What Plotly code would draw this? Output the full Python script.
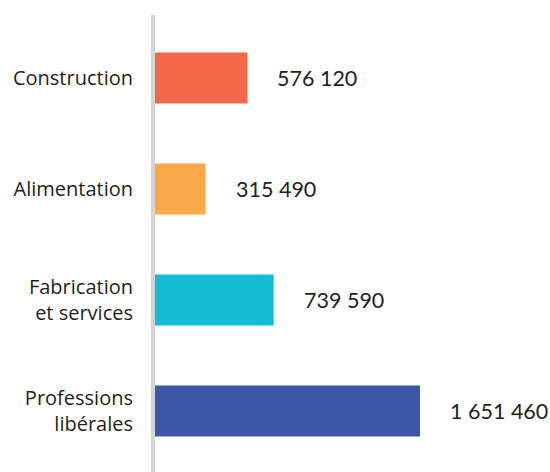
import plotly.graph_objects as go

categories = ["Professions<br>libérales", "Fabrication<br>et services", "Alimentation", "Construction"]
values = [1651460, 739590, 315490, 576120]
labels = ["1 651 460", "739 590", "315 490", "576 120"]
colors = ["#3D55A5", "#13BCD4", "#F9A84A", "#F26849"]

font_family = "'Open Sans', 'Noto Sans', sans-serif"
value_font = "Lato, 'Noto Sans', sans-serif"
text_color = "#231F20"

fig = go.Figure()
fig.add_trace(go.Bar(
    y=categories, x=values, orientation="h",
    marker=dict(color=colors, line=dict(width=0)),
    width=0.46, hoverinfo="skip",
))

for c, v, t in zip(categories, values, labels):
    fig.add_annotation(x=v, y=c, text=t, showarrow=False, xanchor="left",
                       xshift=28, font=dict(size=21.5, color=text_color, family=value_font))

fig.update_layout(
    width=550, height=472,
    margin=dict(l=155, r=0, t=15, b=0),
    paper_bgcolor="white", plot_bgcolor="white",
    showlegend=False,
    xaxis=dict(range=[0, 2461600], visible=False, showgrid=False, zeroline=False),
    yaxis=dict(range=[-0.549, 3.568], showgrid=False, zeroline=False, automargin=False,
               showline=True, linecolor="#D4D4D8", linewidth=4,
               ticks="outside", ticklen=14, tickcolor="rgba(0,0,0,0)",
               tickfont=dict(size=20, color=text_color, family=font_family)),
)

fig.write_html("out.html", config={"displayModeBar": False},
               post_script="document.body.style.margin='0';document.body.style.overflow='hidden';")
